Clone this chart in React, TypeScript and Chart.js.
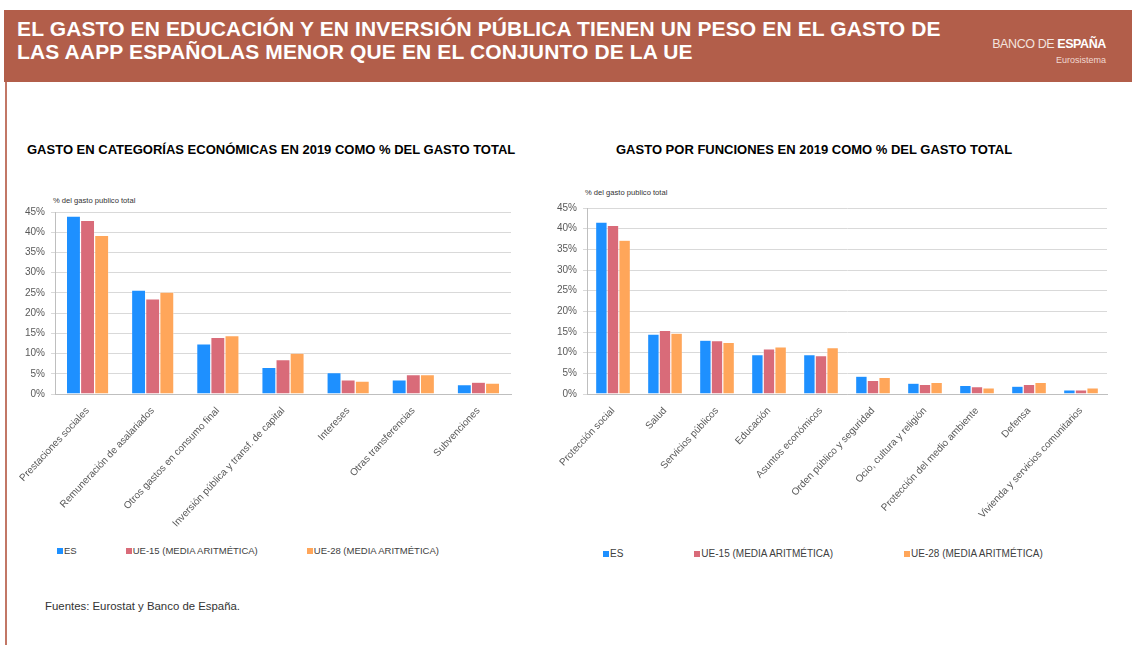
import React, { useEffect, useRef } from "react";
import { Chart, registerables } from "chart.js";

Chart.register(...registerables);

const FONT = '"Liberation Sans", Arial, Helvetica, sans-serif';

const SERIES_LABELS = ["ES", "UE-15 (MEDIA ARITMÉTICA)", "UE-28 (MEDIA ARITMÉTICA)"];
const SERIES_COLORS = ["#1E90FF", "#D96B79", "#FFA65A"];

const ECO_CATEGORIES = [
  "Prestaciones sociales",
  "Remuneración de asalariados",
  "Otros gastos en consumo final",
  "Inversión pública y transf. de capital",
  "Intereses",
  "Otras transferencias",
  "Subvenciones",
];
const ECO_ES = [44.0, 25.7, 12.4, 6.6, 5.3, 3.5, 2.3];
const ECO_UE15 = [42.9, 23.5, 14.0, 8.5, 3.5, 4.8, 2.9];
const ECO_UE28 = [39.2, 25.2, 14.4, 10.1, 3.2, 4.8, 2.7];

const FUN_CATEGORIES = [
  "Protección social",
  "Salud",
  "Servicios públicos",
  "Educación",
  "Asuntos económicos",
  "Orden público y seguridad",
  "Ocio, cultura y religión",
  "Protección del medio ambiente",
  "Defensa",
  "Vivienda y servicios comunitarios",
];
const FUN_ES = [41.6, 14.5, 13.0, 9.5, 9.5, 4.3, 2.6, 2.1, 1.9, 1.0];
const FUN_UE15 = [40.8, 15.4, 12.9, 10.9, 9.3, 3.3, 2.3, 1.8, 2.3, 1.0];
const FUN_UE28 = [37.2, 14.7, 12.5, 11.4, 11.2, 4.0, 2.8, 1.5, 2.8, 1.5];

const Y_MIN = 0;
const Y_MAX = 45;
const Y_STEP = 5;

const MAIN_TITLE_1 = "EL GASTO EN EDUCACIÓN Y EN INVERSIÓN PÚBLICA TIENEN UN PESO EN EL GASTO DE";
const MAIN_TITLE_2 = "LAS AAPP ESPAÑOLAS MENOR QUE EN EL CONJUNTO DE LA UE";
const ECO_TITLE = "GASTO EN CATEGORÍAS ECONÓMICAS EN 2019 COMO % DEL GASTO TOTAL";
const FUN_TITLE = "GASTO POR FUNCIONES EN 2019 COMO % DEL GASTO TOTAL";
const UNIT_LABEL = "% del gasto publico  total";
const SOURCE = "Fuentes: Eurostat  y  Banco de España.";

type Box = { left: number; top: number; width: number; height: number };

function BarChart(props: {
  categories: string[];
  series: number[][];
  box: Box;
  yAxisWidth: number;
  padRight: number;
  catPct: number;
}) {
  const ref = useRef<HTMLCanvasElement | null>(null);
  const { categories, series, box, yAxisWidth, padRight, catPct } = props;

  useEffect(() => {
    if (!ref.current) return;
    const chart = new Chart(ref.current, {
      type: "bar",
      data: {
        labels: categories,
        datasets: series.map((d, i) => ({
          label: SERIES_LABELS[i],
          data: d,
          backgroundColor: SERIES_COLORS[i],
          borderColor: "rgba(255,255,255,0.55)",
          borderWidth: 0.6,
          barPercentage: 1.0,
          categoryPercentage: catPct,
        })),
      },
      options: {
        responsive: false,
        animation: false,
        layout: { padding: { top: 11, right: padRight, left: 0, bottom: 0 } },
        plugins: { legend: { display: false }, tooltip: { enabled: false }, title: { display: false } },
        scales: {
          x: {
            grid: { display: false },
            border: { display: true, color: "#BFBFBF", width: 1 },
            ticks: {
              color: "#595959",
              font: { family: FONT, size: 10 },
              minRotation: 47,
              maxRotation: 47,
              autoSkip: false,
              padding: 3,
            },
            afterFit: (s: any) => {
              s.height = 150;
              s.paddingLeft = 0;
              s.paddingRight = 0;
            },
          },
          y: {
            min: Y_MIN,
            max: Y_MAX,
            ticks: {
              stepSize: Y_STEP,
              color: "#595959",
              font: { family: FONT, size: 10 },
              padding: 6,
              callback: (v: any) => v + "%",
            },
            grid: { color: "#D9D9D9", lineWidth: 1, tickLength: 4 },
            border: { display: true, color: "#BFBFBF", width: 1 },
            afterFit: (s: any) => {
              s.width = yAxisWidth;
            },
          },
        },
      },
    });
    return () => chart.destroy();
  }, []);

  return (
    <canvas
      ref={ref}
      width={box.width}
      height={box.height}
      style={{ position: "absolute", left: box.left, top: box.top, width: box.width, height: box.height }}
    />
  );
}

function Legend(props: { left: number; top: number; gap: number; size: number }) {
  return (
    <div
      style={{
        position: "absolute",
        left: props.left,
        top: props.top,
        display: "flex",
        alignItems: "center",
        gap: props.gap,
        fontFamily: FONT,
        fontSize: props.size,
        color: "#404040",
        whiteSpace: "nowrap",
        lineHeight: "12px",
      }}
    >
      {SERIES_LABELS.map((l, i) => (
        <div key={l} style={{ display: "flex", alignItems: "center" }}>
          <span style={{ display: "inline-block", width: 6, height: 6, background: SERIES_COLORS[i], marginRight: 1 }} />
          <span>{l}</span>
        </div>
      ))}
    </div>
  );
}

const abs = (o: React.CSSProperties): React.CSSProperties => ({ position: "absolute", whiteSpace: "nowrap", ...o });

export default function App() {
  return (
    <div style={{ position: "absolute", left: 0, top: 0, width: 1132, height: 645, background: "#FFFFFF", overflow: "hidden", fontFamily: FONT }}>
      {/* header band */}
      <div style={abs({ left: 4, top: 10, width: 1128, height: 72, background: "#B25E4A" })} />
      <div style={abs({ left: 5, top: 82, width: 2, height: 563, background: "#C27766" })} />
      <div style={abs({ left: 17, top: 17, color: "#FFFFFF", fontWeight: "bold", fontSize: 21, lineHeight: "23px", letterSpacing: 0.13 })}>
        {MAIN_TITLE_1}
        <br />
        {MAIN_TITLE_2}
      </div>
      <div style={abs({ left: 966, top: 36, width: 140, textAlign: "right", color: "#FFFFFF", fontSize: 12.5, lineHeight: "16px", letterSpacing: -0.4 })}>
        <span style={{ fontWeight: 300, color: "#F3E3DE" }}>BANCO DE</span>
        <span style={{ display: "inline-block", width: 3 }} />
        <span style={{ fontWeight: "bold" }}>ESPAÑA</span>
      </div>
      <div style={abs({ left: 1006, top: 54, width: 100, textAlign: "right", color: "#F1D9D2", fontSize: 9, lineHeight: "12px" })}>
        Eurosistema
      </div>

      {/* chart titles */}
      <div style={abs({ left: 27, top: 142, color: "#000", fontWeight: "bold", fontSize: 13, lineHeight: "16px" })}>{ECO_TITLE}</div>
      <div style={abs({ left: 616, top: 142, color: "#000", fontWeight: "bold", fontSize: 13, lineHeight: "16px" })}>{FUN_TITLE}</div>

      {/* unit labels */}
      <div style={abs({ left: 53, top: 196, color: "#333333", fontSize: 7.6, lineHeight: "10px" })}>{UNIT_LABEL}</div>
      <div style={abs({ left: 585, top: 188, color: "#333333", fontSize: 7.6, lineHeight: "10px" })}>{UNIT_LABEL}</div>

      <BarChart
        categories={ECO_CATEGORIES}
        series={[ECO_ES, ECO_UE15, ECO_UE28]}
        box={{ left: 10, top: 200, width: 510, height: 344 }}
        yAxisWidth={45}
        padRight={9}
        catPct={0.65}
      />
      <BarChart
        categories={FUN_CATEGORIES}
        series={[FUN_ES, FUN_UE15, FUN_UE28]}
        box={{ left: 540, top: 196, width: 580, height: 348 }}
        yAxisWidth={47}
        padRight={13}
        catPct={0.67}
      />

      <Legend left={57} top={545} gap={49} size={9.5} />
      <Legend left={603} top={548} gap={71} size={10} />

      <div style={abs({ left: 45, top: 599, color: "#333", fontSize: 11.4, lineHeight: "14px" })}>{SOURCE}</div>
    </div>
  );
}
